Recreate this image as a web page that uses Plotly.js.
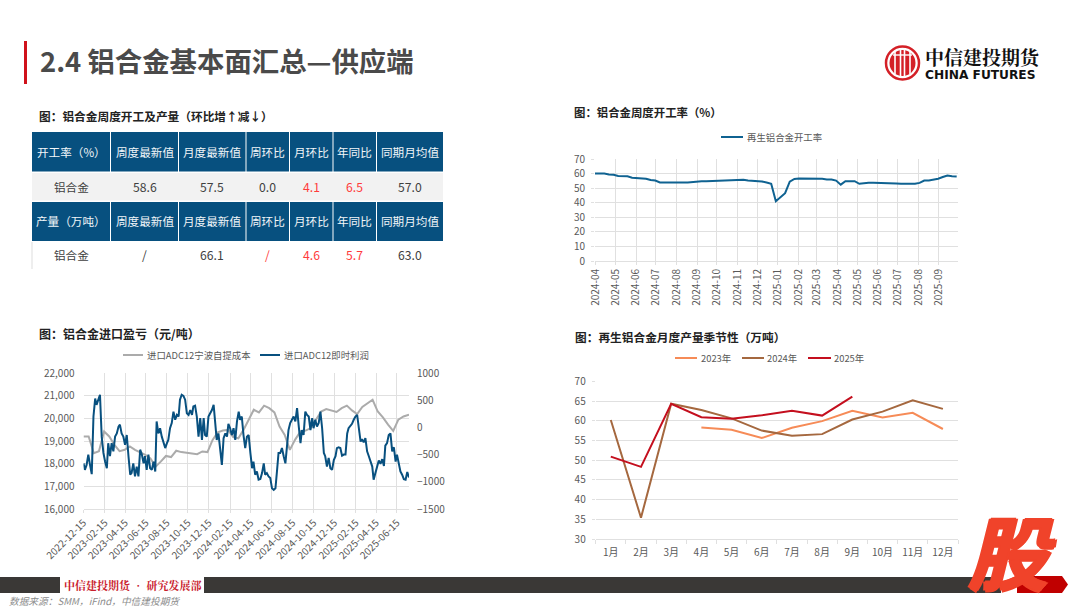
<!DOCTYPE html>
<html><head><meta charset="utf-8">
<script src="https://cdn.plot.ly/plotly-3.0.1.min.js"></script>
<style>html,body{margin:0;padding:0;background:#fff;overflow:hidden}#c{width:1080px;height:608px}</style>
</head><body><div id="c"></div>
<script>
// ---------- data ----------
const tableCols = ['周度最新值','月度最新值','周环比','月环比','年同比','同期月均值'];
const rateHead = '开工率（%）';
const outputHead = '产量（万吨）';
const rateRow = ['铝合金','58.6','57.5','0.0','4.1','6.5','57.0'];
const outputRow = ['铝合金','/','66.1','/','4.6','5.7','63.0'];

const rateStart = '2024-03-31';
const rateValues = [60,60,60,59.4,59.2,58.3,58.2,58.1,57.2,57.1,57.1,56.5,55.6,55.2,53.9,53.8,53.8,53.8,53.8,53.8,
 53.9,54.3,54.4,54.8,54.8,54.9,55.3,55.3,55.7,55.4,55.4,55.9,55.8,55.3,55.2,54.8,54.6,53.9,53,41,
 43.5,46.5,54.5,56.3,56.6,56.6,56.6,56.6,57,56.5,56,55.9,55.2,52.4,54.8,54.8,54.8,53,53.6,53.7,
 53.7,53.7,53.7,53.7,53.6,53.2,53,53,53,53,53.6,55.2,55.3,55.8,56.5,57.6,58.7,58.2,58];

const importCost = [19200,19200,18460,18550,19420,19200,18830,18550,18610,18760,18610,18510,18390,18230,17870,18090,
 18340,18290,18570,18510,18480,18450,18420,18540,18510,19050,19380,19460,19490,19170,19120,19490,19940,20380,20260,20560,
 20450,20260,19640,19270,18610,19050,19420,19460,19570,19940,20300,20410,20350,20280,20450,20560,20350,20190,20500,20670,
 20820,20300,20040,19720,19450,19940,20080,20160];
const importProfit = [-660,-780,-690,-500,-690,-860,200,530,415,510,600,-170,-470,-630,-750,-290,-530,-290,-440,-170,
 -110,15,50,-110,-170,-320,-140,-530,-870,-840,-660,-900,-720,-900,-410,-500,-660,-530,-780,-500,
 -750,-780,-630,-810,110,-110,-15,-170,-260,-380,-290,-230,-15,80,290,140,230,200,510,600,
 580,510,260,230,320,230,385,400,200,-170,170,-230,170,-140,-170,200,260,320,415,-50,
 -230,-110,-350,-690,-200,-110,-170,65,-15,-140,-15,-230,110,290,140,200,-140,-380,-170,-140,
 -470,-750,-630,-870,-810,-960,-950,-840,-660,-870,-840,-900,-930,-1120,-1150,-1120,-840,-470,-470,-380,
 -530,-660,-320,-50,80,140,200,110,355,15,-290,-50,-140,290,230,200,-50,170,-15,140,
 15,80,290,-15,-470,-530,-720,-560,-750,-780,-600,-530,-380,-365,-380,-520,-500,-500,-110,-15,
 30,65,140,200,230,-50,-260,-215,-275,-195,-440,-530,-630,-720,-960,-840,-720,-610,-670,-585,
 -710,-335,-290,-140,-110,-440,-365,-630,-500,-690,-810,-870,-950,-960,-820,-920];
const importStart = '2022-12-15';
const importEnd = '2025-07-20';

const months = ['1月','2月','3月','4月','5月','6月','7月','8月','9月','10月','11月','12月'];
const y2023 = [null,null,null,58.3,57.7,55.6,58.2,59.9,62.5,60.8,62,57.9];
const y2024 = [60.2,35.4,64.3,62.7,60.6,57.5,56.2,56.6,60.3,62.3,65.2,63];
const y2025 = [50.9,48.3,64.3,60.9,60.5,61.4,62.5,61.3,66.1];

// ---------- helpers ----------
const W=1080,H=608;
const px=v=>v/W, py=v=>1-v/H;
const CJK='"Noto Sans CJK SC","Noto Sans",sans-serif';
const SERIF='"Noto Serif CJK SC","Noto Sans CJK SC",serif';
const BLUE='#08507F', GRID='#E0E0E0', TICK='#595959', RED='#FF3B3B', HEAD='#07507F';
const C_RATE='#0F6291',C_COST='#ABABAB',C23='#F68B57',C24='#A5683F',C25='#C40F1E';
const iso=t=>new Date(t).toISOString().slice(0,10);
function stepDates(start,n,stepDays){const s=Date.parse(start);return Array.from({length:n},(_,i)=>iso(s+i*stepDays*864e5));}
function spanDates(start,end,n){const s=Date.parse(start),e=Date.parse(end);return Array.from({length:n},(_,i)=>iso(s+(e-s)*i/(n-1)));}
function txt(x,y,t,o){return Object.assign({xref:'paper',yref:'paper',x:px(x),y:py(y),text:t,showarrow:false,
  xanchor:'left',yanchor:'middle',align:'left',borderpad:0,font:{family:CJK,size:11.7,color:'#222222'}},o||{});}
function rect(x0,y0,x1,y1,c,extra){return Object.assign({type:'rect',xref:'paper',yref:'paper',x0:px(x0),x1:px(x1),y0:py(y0),y1:py(y1),
  fillcolor:c,line:{width:0}},extra||{});}
function ln(x0,y0,x1,y1,c,w){return {type:'line',xref:'paper',yref:'paper',x0:px(x0),x1:px(x1),y0:py(y0),y1:py(y1),line:{color:c,width:w}};}
function circ(cx,cy,r,fill,lc,lw){return {type:'circle',xref:'paper',yref:'paper',x0:px(cx-r),x1:px(cx+r),y0:py(cy+r),y1:py(cy-r),fillcolor:fill,line:{color:lc,width:lw}};}

// ---------- table ----------
const colEdges=[[32,110],[111,178],[179,245.5],[246.5,289],[290,332.5],[333.5,376],[377,443]];
const shapes=[], notes=[];
function headRow(head,top,bot){
  [head].concat(tableCols).forEach((c,i)=>{
    const [a,b]=colEdges[i];
    shapes.push(rect(a,top,b,bot,HEAD));
    notes.push(txt((a+b)/2,(top+bot)/2,c,{xanchor:'center',font:{family:CJK,size:11.6,color:'#F2F6F9'}}));
  });
}
function bodyRow(row,top,bot,fill){
  if(fill) shapes.push(rect(32,top,443,bot,fill));
  row.forEach((c,i)=>{
    const [a,b]=colEdges[i];
    const red=(i>=4&&i<=5)||(i===3&&c==='/');
    notes.push(txt((a+b)/2,(top+bot)/2,c,{xanchor:'center',font:{family:CJK,size:i===0?11.6:12.2,color:red?RED:'#404040'}}));
  });
}
headRow(rateHead,132,171.5);
bodyRow(rateRow,173,200.5,'#F2F2F2');
headRow(outputHead,202,241);
bodyRow(outputRow,242,269,null);
shapes.push(ln(32,242,32,269,'#DDDDDD',1));

// ---------- hand-placed legends ----------
function legendItem(x0,x1,y,c,label,tx){
  shapes.push(ln(x0,y,x1,y,c,2));
  notes.push(txt(tx,y,label,{font:{family:CJK,size:9.4,color:TICK}}));
}
legendItem(721,743,137,C_RATE,'再生铝合金开工率',746);
legendItem(123,143,355,C_COST,'进口ADC12宁波自提成本',146);
legendItem(260,280,355,BLUE,'进口ADC12即时利润',283);
legendItem(675,697,358,C23,'2023年',700);
legendItem(742,764,358,C24,'2024年',766);
legendItem(808,831,358,C25,'2025年',833);

const traces=[
 {type:'scatter',mode:'lines',name:'再生铝合金开工率',x:stepDates(rateStart,rateValues.length,7),y:rateValues,
  xaxis:'x',yaxis:'y',line:{color:C_RATE,width:2}},
 {type:'scatter',mode:'lines',name:'进口ADC12宁波自提成本',x:spanDates(importStart,importEnd,importCost.length),y:importCost,
  xaxis:'x2',yaxis:'y2',line:{color:C_COST,width:2}},
 {type:'scatter',mode:'lines',name:'进口ADC12即时利润',x:spanDates(importStart,importEnd,importProfit.length),y:importProfit,
  xaxis:'x2',yaxis:'y3',line:{color:BLUE,width:2}},
 {type:'scatter',mode:'lines',name:'2023年',x:months,y:y2023,xaxis:'x3',yaxis:'y4',line:{color:C23,width:2}},
 {type:'scatter',mode:'lines',name:'2024年',x:months,y:y2024,xaxis:'x3',yaxis:'y4',line:{color:C24,width:2}},
 {type:'scatter',mode:'lines',name:'2025年',x:months,y:y2025,xaxis:'x3',yaxis:'y4',line:{color:C25,width:2}}
];

const tickFont={family:CJK,size:10,color:TICK};
shapes.push(
  rect(24,41,27,84,'#D0121B'),
  circ(902.5,63,16.5,'#FFFFFF','#D42027',2.5),
  circ(902.5,63,13,'#D42027','#D42027',0),
  ln(895,52,895,74,'#FFFFFF',1.6),ln(900.5,49,900.5,77,'#FFFFFF',1.6),ln(904.5,49,904.5,77,'#FFFFFF',1.6),ln(910,52,910,74,'#FFFFFF',1.6),
  ln(893,55,912,55,'#FFFFFF',1.4),
  rect(0,577,60,593,'#3A3836'),rect(204,577,1001,593,'#3A3836'),
  {type:'path',xref:'paper',yref:'paper',path:`M ${px(1017)} ${py(576)} L ${px(1062)} ${py(576)} L ${px(1068)} ${py(584.5)} L ${px(1062)} ${py(593)} L ${px(1017)} ${py(593)} Z`,fillcolor:'#C00000',line:{width:0}}
);
notes.push(
  txt(39,60,'2.4 铝合金基本面汇总—供应端',{font:{family:CJK,size:27.4,color:'#4A4A4A',weight:700}}),
  txt(38,115,'<b>图：铝合金周度开工及产量（环比增↑减↓）</b>'),
  txt(573,112,'<b>图：铝合金周度开工率（%）</b>',{font:{family:CJK,size:11.4,color:'#222222'}}),
  txt(38,333,'<b>图：铝合金进口盈亏（元/吨）</b>',{font:{family:CJK,size:12,color:'#222222'}}),
  txt(574,336,'<b>图：再生铝合金月度产量季节性（万吨）</b>'),
  txt(924,56.5,'<b>中信建投期货</b>',{font:{family:SERIF,size:19,color:'#111111'}}),
  txt(924,75,'<b>CHINA FUTURES</b>',{font:{family:'"DejaVu Sans",sans-serif',size:12.2,color:'#111111'}}),
  txt(63,585,'<b>中信建投期货 • 研究发展部</b>',{font:{family:SERIF,size:11,color:'#C9202C'}}),
  txt(8,601,'<i>数据来源：SMM，iFind，中信建投期货</i>',{font:{family:CJK,size:9.7,color:'#8C8C8C'}}),
  txt(1012,549,'<b><i>股</i></b>',{xanchor:'center',font:{family:CJK,size:80,color:'#F0432A',weight:900,
     shadow:'2px 0 0 #F0432A,-2px 0 0 #F0432A,0 2px 0 #F0432A,0 -1px 0 #F0432A'}})
);

const layout={
 width:W,height:H,margin:{l:0,r:0,t:0,b:0},paper_bgcolor:'#fff',plot_bgcolor:'rgba(0,0,0,0)',
 font:{family:CJK},showlegend:false,hovermode:false,
 xaxis:{type:'date',domain:[px(595),px(958)],anchor:'y',range:['2024-03-31','2025-09-30'],tick0:'2024-04-01',dtick:'M1',tickformat:'%Y-%m',
   tickangle:-90,tickfont:tickFont,showgrid:true,gridcolor:GRID,gridwidth:1,showline:true,linecolor:GRID,ticks:'outside',ticklen:3,tickcolor:GRID,automargin:false},
 yaxis:{domain:[py(261),py(159)],anchor:'x',range:[0,70],dtick:10,tickfont:tickFont,showgrid:true,gridcolor:GRID,zeroline:false,showline:false,ticks:'outside',ticklen:3,tickcolor:GRID,ticklabelstandoff:4,automargin:false},
 xaxis2:{type:'date',domain:[px(83.5),px(409)],anchor:'y2',range:[importStart,importEnd],tick0:importStart,dtick:'M2',tickformat:'%Y-%m-%d',
   tickangle:-45,tickfont:tickFont,showgrid:true,gridcolor:GRID,gridwidth:1,showline:true,linecolor:GRID,ticks:'outside',ticklen:3,tickcolor:GRID,automargin:false},
 yaxis2:{domain:[py(509),py(373)],anchor:'x2',range:[16000,22000],dtick:1000,tickformat:',d',tickfont:tickFont,showgrid:true,gridcolor:GRID,zeroline:false,showline:false,ticks:'',ticklabelstandoff:8,automargin:false},
 yaxis3:{domain:[py(509),py(373)],anchor:'x2',overlaying:'y2',side:'right',range:[-1500,1000],dtick:500,tickformat:'d',tickfont:tickFont,showgrid:false,zeroline:false,showline:false,ticks:'',ticklabelstandoff:7,automargin:false},
 xaxis3:{type:'category',domain:[px(595.7),px(958)],anchor:'y4',categoryorder:'array',categoryarray:months,range:[-0.5,11.5],tickson:'boundaries',
   tickfont:tickFont,showgrid:false,showline:true,linecolor:GRID,ticks:'outside',ticklen:4,tickcolor:GRID,ticklabelstandoff:4,automargin:false},
 yaxis4:{domain:[py(539),py(381.3)],anchor:'x3',range:[30,70],dtick:5,tickfont:tickFont,showgrid:true,gridcolor:GRID,zeroline:false,showline:false,ticks:'outside',ticklen:3,tickcolor:GRID,ticklabelstandoff:4,automargin:false},
 shapes:shapes,
 annotations:notes
};
Plotly.newPlot('c',traces,layout,{staticPlot:true,displayModeBar:false});
</script></body></html>
